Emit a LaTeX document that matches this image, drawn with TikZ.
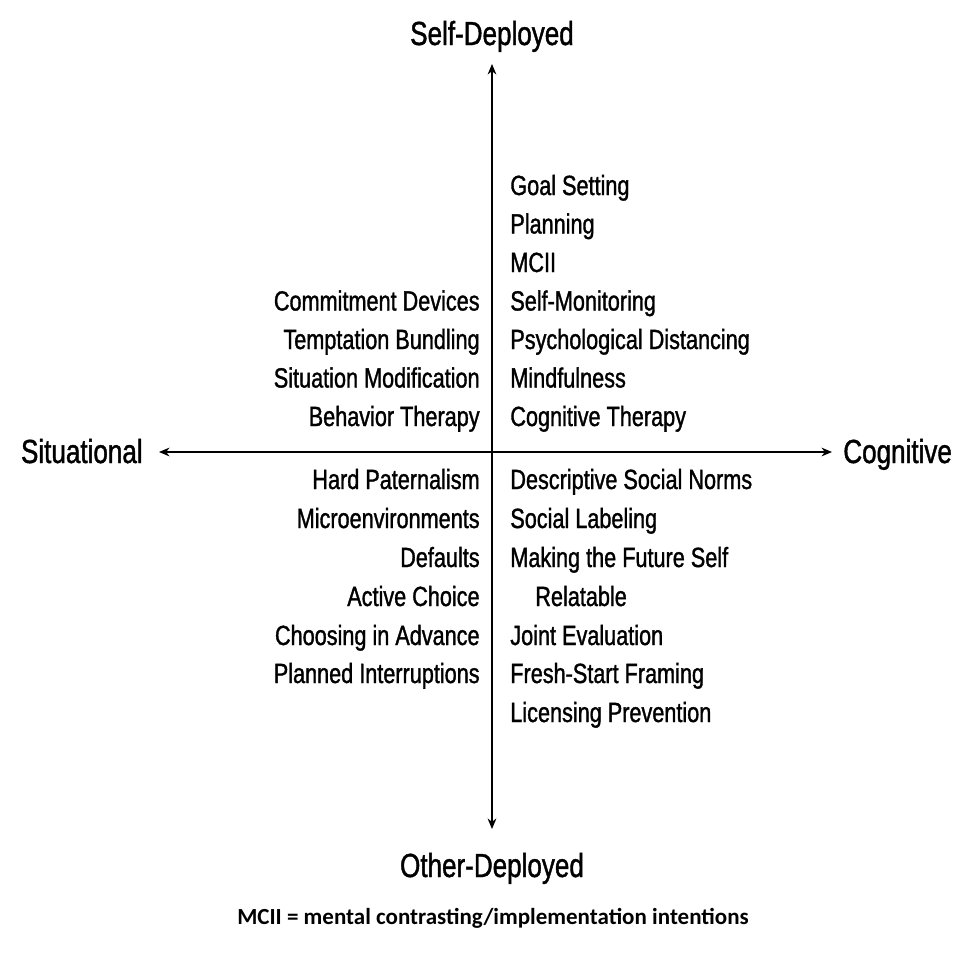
\documentclass[tikz,border=0pt]{standalone}
\usepackage{fontspec}
\setmainfont{Liberation Sans}[FakeStretch=0.78, FakeBold=1.2]
\newfontfamily\notefont{Carlito}
\usetikzlibrary{arrows.meta}

\begin{document}
\begin{tikzpicture}[
    x=0.02cm, y=-0.02cm,
    axis/.style={draw, line width=0.7pt, {Stealth[length=6pt,width=5pt]}-{Stealth[length=6pt,width=5pt]}},
    pole/.style={font=\fontsize{19}{22}\selectfont},
    item/.style={font=\fontsize{15.8}{18}\selectfont, inner sep=0pt},
    lefti/.style={item, anchor=base east},
    righti/.style={item, anchor=base west},
    note/.style={font=\notefont\bfseries\fontsize{13.1}{15}\selectfont}
]
\useasboundingbox (0,0) rectangle (954,958);

% Axis ends
\coordinate (top) at (492,64);
\coordinate (bot) at (492,829);
\coordinate (west) at (159,452);
\coordinate (east) at (832,452);

\draw[axis] (bot) -- (top);
\draw[axis] (west) -- (east);

% Pole labels
\node[pole, anchor=base] (self) at (492,45) {Self-Deployed};
\node[pole, anchor=base] (other) at (492,877) {Other-Deployed};
\node[pole, anchor=base east, inner sep=0pt] (situ) at (143,463) {Situational};
\node[pole, anchor=base west, inner sep=0pt] (cogn) at (843,463) {Cognitive};

% Self-deployed, cognitive
\node[righti] (goal) at (510,195) {Goal Setting};
\node[righti] (plan) at (510,233.5) {Planning};
\node[righti] (mcii) at (510,272) {MCII};
\node[righti] (monit) at (510,310.5) {Self-Monitoring};
\node[righti] (dist) at (510,349) {Psychological Distancing};
\node[righti] (mind) at (510,387.5) {Mindfulness};
\node[righti] (cogth) at (510,426) {Cognitive Therapy};

% Self-deployed, situational
\node[lefti] (commit) at (480,310.5) {Commitment Devices};
\node[lefti] (tempt) at (480,349) {Temptation Bundling};
\node[lefti] (modif) at (480,387.5) {Situation Modification};
\node[lefti] (behth) at (480,426) {Behavior Therapy};

% Other-deployed, situational
\node[lefti] (pater) at (480,489) {Hard Paternalism};
\node[lefti] (micro) at (480,528) {Microenvironments};
\node[lefti] (defaults) at (480,567) {Defaults};
\node[lefti] (active) at (480,606) {Active Choice};
\node[lefti] (advance) at (480,645) {Choosing in Advance};
\node[lefti] (interr) at (480,683) {Planned Interruptions};

% Other-deployed, cognitive
\node[righti] (norms) at (510,489) {Descriptive Social Norms};
\node[righti] (label) at (510,528) {Social Labeling};
\node[righti] (future) at (510,567) {Making the Future Self};
\node[righti] (relat) at (535,606) {Relatable};
\node[righti] (joint) at (510,645) {Joint Evaluation};
\node[righti] (fresh) at (510,683) {Fresh-Start Framing};
\node[righti] (licen) at (510,722) {Licensing Prevention};

% Footnote
\node[note, anchor=base] (foot) at (493,924) {MCII = mental contrasting/implementation intentions};

\end{tikzpicture}
\end{document}
